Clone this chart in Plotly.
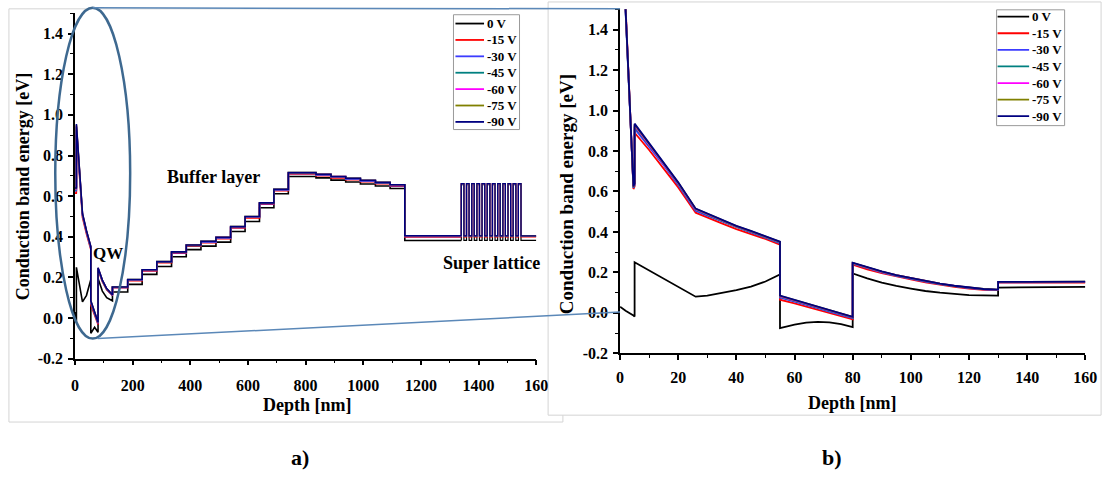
import plotly.graph_objects as go

W, H = 1119, 486
FONT = "Liberation Serif"

# ---------------- series ----------------
series_names = ["0 V", "-15 V", "-30 V", "-45 V", "-60 V", "-75 V", "-90 V"]
series_colors = ["#000000", "#ff0000", "#3c3cff", "#008080", "#ff00ff", "#808000", "#000080"]

# ---------------- panel b) : 0 - 160 nm ----------------
depth_b = [0, 1.9, 4.6, 5, 5, 10, 15, 20, 26, 30, 35, 40, 45, 50, 55, 55, 60, 64, 68, 72, 76, 80, 80,
           85, 90, 95, 100, 105, 110, 115, 120, 125, 130, 130, 140, 150, 160]
b_0V = [0.03, 0.01, -0.013, -0.018, 0.25, 0.21, 0.17, 0.13, 0.08, 0.085, 0.097, 0.112, 0.13, 0.155, 0.19,
        -0.075, -0.058, -0.048, -0.045, -0.047, -0.056, -0.07, 0.195, 0.17, 0.15, 0.133, 0.12, 0.108,
        0.1, 0.093, 0.088, 0.086, 0.085, 0.125, 0.126, 0.127, 0.128]
b_15V = [2.15, 1.48, 0.612, 0.625, 0.89, 0.805, 0.715, 0.62, 0.495, 0.47, 0.442, 0.414, 0.39, 0.365, 0.337,
         0.065, 0.047, 0.031, 0.015, -0.001, -0.017, -0.032, 0.238, 0.215, 0.196, 0.179, 0.165, 0.151,
         0.139, 0.129, 0.12, 0.114, 0.112, 0.149, 0.149, 0.15, 0.15]
b_30V = [2.17, 1.49, 0.618, 0.632, 0.91, 0.82, 0.73, 0.632, 0.505, 0.48, 0.451, 0.422, 0.397, 0.372, 0.344,
         0.075, 0.056, 0.039, 0.023, 0.006, -0.01, -0.026, 0.243, 0.22, 0.2, 0.183, 0.168, 0.154,
         0.142, 0.131, 0.122, 0.116, 0.113, 0.151, 0.151, 0.152, 0.152]
b_45V = [2.18, 1.49, 0.62, 0.635, 0.92, 0.828, 0.736, 0.637, 0.509, 0.484, 0.455, 0.425, 0.4, 0.375, 0.347,
         0.079, 0.059, 0.042, 0.026, 0.009, -0.007, -0.023, 0.245, 0.222, 0.202, 0.185, 0.17, 0.156,
         0.143, 0.132, 0.123, 0.117, 0.114, 0.152, 0.152, 0.153, 0.153]
b_60V = [2.19, 1.5, 0.622, 0.637, 0.926, 0.833, 0.74, 0.641, 0.512, 0.487, 0.457, 0.427, 0.402, 0.377, 0.349,
         0.082, 0.062, 0.045, 0.028, 0.011, -0.005, -0.021, 0.246, 0.223, 0.203, 0.186, 0.171, 0.157,
         0.144, 0.133, 0.124, 0.117, 0.114, 0.152, 0.152, 0.153, 0.153]
b_75V = [2.2, 1.5, 0.624, 0.639, 0.931, 0.837, 0.743, 0.643, 0.514, 0.489, 0.459, 0.429, 0.404, 0.379, 0.351,
         0.084, 0.063, 0.046, 0.029, 0.012, -0.004, -0.02, 0.247, 0.224, 0.204, 0.186, 0.171, 0.157,
         0.144, 0.133, 0.124, 0.118, 0.115, 0.153, 0.153, 0.154, 0.154]
b_90V = [2.2, 1.5, 0.625, 0.64, 0.935, 0.84, 0.745, 0.645, 0.515, 0.49, 0.46, 0.43, 0.405, 0.38, 0.352,
         0.085, 0.064, 0.047, 0.03, 0.013, -0.004, -0.02, 0.248, 0.225, 0.205, 0.187, 0.172, 0.158,
         0.145, 0.134, 0.125, 0.118, 0.115, 0.153, 0.153, 0.154, 0.154]

# ---------------- panel a) : 0 - 1600 nm ----------------
depth_a_curve = [0, 2, 4.6, 5, 5, 15, 26, 40, 55, 55, 68, 80, 80, 95, 110, 130]
a_curve_0V = [0.03, 0.01, -0.013, -0.018, 0.25, 0.17, 0.08, 0.112, 0.19, -0.075, -0.045, -0.07, 0.195, 0.133, 0.1, 0.085]
a_curve_15V = [0.615, 0.615, 0.615, 0.625, 0.9, 0.715, 0.495, 0.414, 0.337, 0.065, 0.015, -0.032, 0.238, 0.179, 0.139, 0.112]
a_curve_30V = [0.625, 0.625, 0.627, 0.635, 0.925, 0.73, 0.505, 0.422, 0.344, 0.075, 0.023, -0.026, 0.243, 0.183, 0.142, 0.113]
a_curve_45V = [0.63, 0.63, 0.632, 0.64, 0.94, 0.736, 0.509, 0.425, 0.347, 0.079, 0.026, -0.023, 0.245, 0.185, 0.143, 0.114]
a_curve_60V = [0.635, 0.635, 0.636, 0.642, 0.945, 0.74, 0.512, 0.427, 0.349, 0.082, 0.028, -0.021, 0.246, 0.186, 0.144, 0.114]
a_curve_75V = [0.638, 0.638, 0.639, 0.644, 0.95, 0.743, 0.514, 0.429, 0.351, 0.084, 0.029, -0.02, 0.247, 0.186, 0.144, 0.115]
a_curve_90V = [0.64, 0.64, 0.64, 0.645, 0.955, 0.745, 0.515, 0.43, 0.352, 0.085, 0.03, -0.02, 0.248, 0.187, 0.145, 0.115]

# buffer-layer steps (layer edges in nm) and the level of each layer
a_layer_edges = [130, 183, 233, 284, 335, 386, 437, 489, 540, 590, 640, 690, 740,
                 836, 888, 939, 990, 1042, 1093, 1144, 1340]
a_levels_0V = [0.128, 0.166, 0.215, 0.254, 0.302, 0.337, 0.354, 0.374, 0.426, 0.475, 0.543, 0.612,
               0.697, 0.69, 0.679, 0.67, 0.66, 0.65, 0.638, 0.382]
a_levels_15V = [0.15, 0.184, 0.232, 0.272, 0.319, 0.354, 0.371, 0.391, 0.443, 0.493, 0.56, 0.627,
                0.709, 0.701, 0.69, 0.681, 0.671, 0.661, 0.649, 0.399]
a_levels_30V = [0.151, 0.187, 0.235, 0.275, 0.322, 0.357, 0.374, 0.394, 0.446, 0.496, 0.563, 0.63,
                0.712, 0.704, 0.693, 0.684, 0.674, 0.664, 0.652, 0.402]
a_levels_45V = [0.152, 0.188, 0.236, 0.276, 0.324, 0.358, 0.376, 0.396, 0.448, 0.498, 0.565, 0.632,
                0.714, 0.706, 0.695, 0.686, 0.676, 0.666, 0.654, 0.403]
a_levels_60V = [0.152, 0.189, 0.237, 0.277, 0.325, 0.359, 0.377, 0.397, 0.449, 0.499, 0.566, 0.633,
                0.715, 0.707, 0.696, 0.687, 0.677, 0.667, 0.655, 0.404]
a_levels_75V = [0.153, 0.19, 0.238, 0.278, 0.326, 0.36, 0.378, 0.398, 0.45, 0.5, 0.567, 0.634,
                0.716, 0.708, 0.697, 0.688, 0.678, 0.668, 0.656, 0.405]
a_levels_90V = [0.153, 0.19, 0.238, 0.278, 0.326, 0.36, 0.378, 0.398, 0.45, 0.5, 0.567, 0.634,
                0.716, 0.708, 0.697, 0.688, 0.678, 0.668, 0.656, 0.405]

# super lattice (alternating barrier / well layers, edges in nm)
sl_edges = [1340, 1349, 1358, 1367, 1376, 1385, 1394, 1403, 1412, 1421, 1430, 1439,
            1448, 1457, 1466, 1475, 1484, 1493, 1502, 1511, 1520, 1529, 1538, 1547]
sl_barrier = [0.656, 0.66, 0.661, 0.661, 0.662, 0.662, 0.662]
sl_well = [0.382, 0.399, 0.402, 0.403, 0.404, 0.405, 0.405]
depth_a_end = 1600

# ---------------- ticks ----------------
x_ticks_a = [0, 200, 400, 600, 800, 1000, 1200, 1400, 1600]
x_ticklabels_a = ["0", "200", "400", "600", "800", "1000", "1200", "1400", "160"]
x_ticks_b = [0, 20, 40, 60, 80, 100, 120, 140, 160]
x_ticklabels_b = ["0", "20", "40", "60", "80", "100", "120", "140", "160"]
y_ticks = [-0.2, 0.0, 0.2, 0.4, 0.6, 0.8, 1.0, 1.2, 1.4]
y_ticklabels = ["-0.2", "0.0", "0.2", "0.4", "0.6", "0.8", "1.0", "1.2", "1.4"]


def px(x):
    return x / W


def py(y):
    return 1 - y / H


def bold(size):
    return dict(family=FONT, size=size, color="black", weight="bold")


fig = go.Figure()

a_curves = [a_curve_0V, a_curve_15V, a_curve_30V, a_curve_45V, a_curve_60V, a_curve_75V, a_curve_90V]
a_levels = [a_levels_0V, a_levels_15V, a_levels_30V, a_levels_45V, a_levels_60V, a_levels_75V, a_levels_90V]
for i, name in enumerate(series_names):
    xs = list(depth_a_curve)
    ys = list(a_curves[i])
    for k, lv in enumerate(a_levels[i]):
        xs += [a_layer_edges[k], a_layer_edges[k + 1]]
        ys += [lv, lv]
    fig.add_trace(go.Scatter(x=xs, y=ys, mode="lines", name=name, showlegend=False,
                             line=dict(color=series_colors[i], width=1.6),
                             xaxis="x", yaxis="y", hoverinfo="skip"))
    # super lattice part + tail
    sx, sy = [a_layer_edges[-1]], [a_levels[i][-1]]
    for k in range(len(sl_edges) - 1):
        lv = sl_barrier[i] if k % 2 == 0 else sl_well[i]
        sx += [sl_edges[k], sl_edges[k + 1]]
        sy += [lv, lv]
    sx += [sl_edges[-1], depth_a_end]
    sy += [sl_well[i], sl_well[i]]
    fig.add_trace(go.Scatter(x=sx, y=sy, mode="lines", name=name, showlegend=False,
                             line=dict(color=series_colors[i], width=1.2),
                             xaxis="x", yaxis="y", hoverinfo="skip"))

b_series = [b_0V, b_15V, b_30V, b_45V, b_60V, b_75V, b_90V]
for i, name in enumerate(series_names):
    fig.add_trace(go.Scatter(x=depth_b, y=b_series[i], mode="lines", name=name, showlegend=False,
                             line=dict(color=series_colors[i], width=1.8),
                             xaxis="x2", yaxis="y2", hoverinfo="skip"))

axis_common = dict(showline=True, linecolor="black", linewidth=1.5, ticks="outside",
                   ticklen=5, tickwidth=1.5, tickcolor="black", showgrid=False, zeroline=False,
                   tickmode="array")
minor_common = dict(ticks="outside", ticklen=3, tickwidth=1.2, tickcolor="black")

fig.update_layout(
    width=W, height=H, autosize=False,
    margin=dict(l=0, r=0, t=0, b=0),
    paper_bgcolor="white", plot_bgcolor="rgba(0,0,0,0)",
    xaxis=dict(axis_common, domain=[px(72), px(540)], range=[0, 1600], anchor="y",
               tickvals=x_ticks_a, ticktext=x_ticklabels_a, tickfont=bold(16), ticklabelstandoff=6,
               minor=dict(minor_common, dtick=100, tick0=0)),
    yaxis=dict(axis_common, domain=[py(365.5), py(13.5)], range=[-0.2, 1.5], anchor="x",
               tickvals=y_ticks, ticktext=y_ticklabels, tickfont=bold(16), ticklabelstandoff=2,
               minor=dict(minor_common, dtick=0.1, tick0=0)),
    xaxis2=dict(axis_common, domain=[px(625), px(1097)], range=[0, 160], anchor="y2",
                tickvals=x_ticks_b, ticktext=x_ticklabels_b, tickfont=bold(16), ticklabelstandoff=4,
                minor=dict(minor_common, dtick=10, tick0=0)),
    yaxis2=dict(axis_common, domain=[py(360), py(9.5)], range=[-0.2, 1.5], anchor="x2",
                tickvals=y_ticks, ticktext=y_ticklabels, tickfont=bold(16), ticklabelstandoff=2,
                minor=dict(minor_common, dtick=0.1, tick0=0)),
)

shapes = []
# panel frames
shapes.append(dict(type="rect", xref="paper", yref="paper", x0=px(5), x1=px(567), y0=py(430), y1=py(9),
                   line=dict(color="#d4d4d4", width=1), fillcolor="white", layer="below"))
shapes.append(dict(type="rect", xref="paper", yref="paper", x0=px(552), x1=px(1113), y0=py(423), y1=py(2),
                   line=dict(color="#d4d4d4", width=1), fillcolor="white", layer="below"))

# legends (drawn manually to match the compact Origin legends)
legend_boxes = [dict(x0=456, x1=523, y0=15, y1=132, lx0=458, lx1=487, tx=488, ty0=24, dy=16.7, fs=13),
                dict(x0=1007, x1=1076, y0=10, y1=128, lx0=1008, lx1=1040, tx=1041, ty0=17, dy=16.9, fs=13)]
annotations = []
for lb in legend_boxes:
    shapes.append(dict(type="rect", xref="paper", yref="paper", x0=px(lb["x0"]), x1=px(lb["x1"]),
                       y0=py(lb["y1"]), y1=py(lb["y0"]), line=dict(color="#9a9a9a", width=1),
                       fillcolor="rgba(0,0,0,0)", layer="above"))
    for i, name in enumerate(series_names):
        yy = lb["ty0"] + i * lb["dy"]
        shapes.append(dict(type="line", xref="paper", yref="paper", x0=px(lb["lx0"]), x1=px(lb["lx1"]),
                           y0=py(yy), y1=py(yy), line=dict(color=series_colors[i], width=1.8), layer="above"))
        annotations.append(dict(text=name, xref="paper", yref="paper", x=px(lb["tx"]), y=py(yy),
                                xanchor="left", yanchor="middle", showarrow=False, font=bold(lb["fs"])))

# zoom ellipse and connectors
shapes.append(dict(type="circle", xref="paper", yref="paper", x0=px(52), x1=px(128), y0=py(345), y1=py(8),
                   line=dict(color="#3e6990", width=2.5), layer="above"))
shapes.append(dict(type="line", xref="paper", yref="paper", x0=px(90), x1=px(625), y0=py(8), y1=py(9),
                   line=dict(color="#5b88b8", width=1.5), layer="above"))
shapes.append(dict(type="line", xref="paper", yref="paper", x0=px(95), x1=px(625), y0=py(345), y1=py(318),
                   line=dict(color="#5b88b8", width=1.5), layer="above"))

# texts
texts = [
    ("Conduction band energy [eV]", 20, 190, 18, -90),
    ("Conduction band energy [eV]", 570, 198, 19, -90),
    ("Depth [nm]", 308, 413, 18, 0),
    ("Depth [nm]", 861, 411, 18, 0),
    ("Buffer layer", 213, 180, 18, 0),
    ("QW", 106, 258, 17, 0),
    ("Super lattice", 495, 268, 18, 0),
    ("a)", 300, 466, 22, 0),
    ("b)", 840, 466, 22, 0),
]
for t, x, y, s, ang in texts:
    annotations.append(dict(text=t, xref="paper", yref="paper", x=px(x), y=py(y), xanchor="center",
                            yanchor="middle", showarrow=False, textangle=ang, font=bold(s)))

fig.update_layout(shapes=shapes, annotations=annotations)
fig.write_html("out.html")
